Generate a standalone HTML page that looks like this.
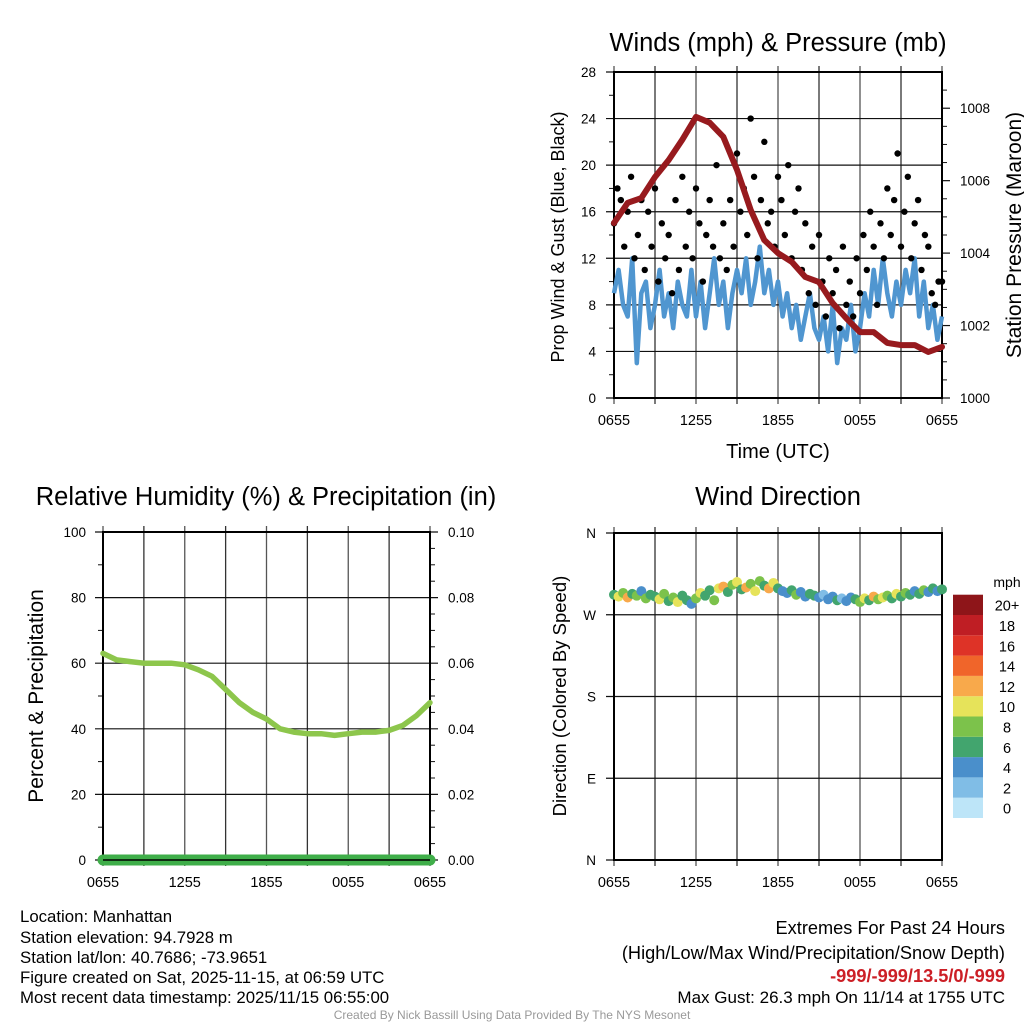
<!DOCTYPE html>
<html><head><meta charset="utf-8"><style>
body{margin:0;background:#fff;}
svg text{font-family:"Liberation Sans",sans-serif;}
</style></head><body>
<svg id="s" width="1024" height="1024" viewBox="0 0 1024 1024" xmlns="http://www.w3.org/2000/svg">
<rect width="1024" height="1024" fill="#fff"/>
<g id="g1"></g>
<g id="g2"></g>
<g id="g3"></g>
<g id="info" font-size="16.8" fill="#000">
<text x="20" y="922">Location: Manhattan</text>
<text x="20" y="943">Station elevation: 94.7928 m</text>
<text x="20" y="963">Station lat/lon: 40.7686; -73.9651</text>
<text x="20" y="983">Figure created on Sat, 2025-11-15, at 06:59 UTC</text>
<text x="20" y="1003">Most recent data timestamp: 2025/11/15 06:55:00</text>
</g>
<g font-size="18.2" text-anchor="end">
<text x="1005" y="934">Extremes For Past 24 Hours</text>
<text x="1005" y="959">(High/Low/Max Wind/Precipitation/Snow Depth)</text>
<text x="1005" y="982" fill="#cc1f26" font-weight="bold">-999/-999/13.5/0/-999</text>
<text x="1005" y="1003" font-size="17">Max Gust: 26.3 mph On 11/14 at 1755 UTC</text>
</g>
<text x="512" y="1019" font-size="12" fill="#999" text-anchor="middle">Created By Nick Bassill Using Data Provided By The NYS Mesonet</text>
</svg>
<script>
// ---- data ----
const timeLabels=["0655","1255","1855","0055","0655"];
const windTicks=[0,4,8,12,16,20,24,28];
const presTicks=[1000,1002,1004,1006,1008];
const pressure=[1004.83,1005.39,1005.52,1006.1,1006.57,1007.13,1007.76,1007.6,1007.21,1006.3,1005.19,1004.36,1004.0,1003.76,1003.34,1003.2,1002.62,1002.2,1001.82,1001.82,1001.52,1001.46,1001.46,1001.27,1001.41];
const wind=[9,11,8,7,12,3,9,10,6, 8,11,7,9,6,10,8,7,11, 7,10,6,9,12,8,10,6,9, 11,9,12,8,10,13,9,11,8, 10,7,9,6,8,5,7,9,6, 5,7,4,8,3,6,5,8,4, 6,9,7,11,8,12,9,7,10, 8,11,9,12,7,10,6,8,5,7];
const gust=[15,18,17,13,16,19,12,14,17,11,16,13,18,10,15,12, 14,9,17,11,19,13,16,12,18,15,10,14,17,13,20,12, 15,11,17,13,21,16,18,14,24,19,12,17,22,15,16,13, 19,17,14,20,12,16,18,11,15,9,13,8,14,10,7,12, 9,11,6,13,8,10,7,12,9,14,11,16,13,8,15,12, 18,14,17,21,13,16,19,12,15,17,11,14,13,9,8,10,10];
const rhTicks=[0,20,40,60,80,100];
const precipTicks=["0.00","0.02","0.04","0.06","0.08","0.10"];
const rh=[63,61,60.5,60,60,60,59.5,58,56,52,48,45,43,40,39,38.5,38.5,38,38.5,39,39,39.5,41,44,48];
const precip=[0,0,0,0,0,0,0,0,0,0,0,0,0,0,0,0,0,0,0,0,0,0,0,0,0];
const dirLabels=["N","E","S","W","N"];
const dirs=[292,290,294,289,293,291,296,288,292, 290,287,293,285,289,284,291,286,282, 288,294,291,297,286,299,301,295,303, 306,298,300,304,296,307,302,299,305, 299,296,294,297,292,295,290,293,291, 289,292,287,290,286,288,285,289,287, 284,288,286,290,287,289,291,288,293, 290,294,292,296,293,297,295,299,296,298];
const speeds=[6,10,8,12,7,9,5,8,6, 7,10,9,6,8,10,7,6,4, 8,10,7,6,9,10,12,7,8, 10,6,12,9,11,8,7,12,10, 6,5,4,6,8,4,5,6,7, 4,3,5,4,6,3,5,4,6, 8,10,7,12,9,10,8,6,11, 7,8,6,5,7,8,4,6,5,7];
const cbLabels=["0","2","4","6","8","10","12","14","16","18","20+"];
const cbColors=["#bde5f8","#80bde6","#4a8fcb","#42a56e","#7cc24b","#e6e35a","#f8a94b","#f0652a","#de3327","#bf1e24","#8e1519"];

const NS="http://www.w3.org/2000/svg";
function mk(p,t,a){const e=document.createElementNS(NS,t);for(const k in a)e.setAttribute(k,a[k]);p.appendChild(e);return e;}
function txt(p,x,y,s,size,anchor,rot){const e=mk(p,'text',{x:x,y:y,'font-size':size,'text-anchor':anchor||'middle'});if(rot)e.setAttribute('transform','rotate(-90 '+x+' '+y+')');e.textContent=s;return e;}
function colorFor(v){let i=Math.min(10,Math.max(0,Math.floor(v/2)));return cbColors[i];}

function frame(g,L,R,T,B,title,tx,ty){
  const t=txt(g,tx,ty,title,25.5);
  
  for(let i=0;i<=8;i++){const x=L+(R-L)*i/8;
    const l=mk(g,'line',{x1:x,y1:T-6,x2:x,y2:B+6,stroke:i%2?'#333':'#555','stroke-width':1.3});
    }
  for(let i=0;i<5;i++){const x=L+(R-L)*i/4;
    const l=txt(g,x,B+27,timeLabels[i],14.5);}
}
function xAt(L,R,i,n){return L+(R-L)*i/(n-1);}

// ---- chart 1 ----
(function(){
const g=document.getElementById('g1');const L=614,R=942,T=72,B=398;
const y=v=>B-(v/28)*(B-T); const yp=v=>B-((v-1000)/9)*(B-T);
frame(g,L,R,T,B,"Winds (mph) & Pressure (mb)",778,51);
windTicks.forEach(v=>{const yy=y(v);
  const l=mk(g,'line',{x1:L-8,y1:yy,x2:R,y2:yy,stroke:'#111','stroke-width':1.2});
  const t=txt(g,L-18,yy+5,String(v),13.5,'end');});
for(let v=2;v<28;v+=4){mk(g,'line',{x1:L-5,y1:y(v),x2:L,y2:y(v),stroke:'#111'});}
presTicks.forEach(v=>{const yy=yp(v);mk(g,'line',{x1:R,y1:yy,x2:R+8,y2:yy,stroke:'#111','stroke-width':1.2});
  const t=txt(g,R+18,yy+5,String(v),13.5,'start');});
for(let v=1000.5;v<1009;v+=0.5){if(v%2)mk(g,'line',{x1:R,y1:yp(v),x2:R+5,y2:yp(v),stroke:'#111'});}
mk(g,'rect',{x:L,y:T,width:R-L,height:B-T,fill:'none',stroke:'#000','stroke-width':2});
let d='';wind.forEach((v,i)=>{d+=(i?'L':'M')+xAt(L,R,i,wind.length).toFixed(1)+' '+y(v).toFixed(1);});
const wl=mk(g,'path',{d:d,fill:'none',stroke:'#5096d0','stroke-width':4.5,'stroke-linejoin':'round'});

gust.forEach((v,i)=>{const c=mk(g,'circle',{cx:xAt(L,R,i,gust.length),cy:y(v),r:3.2,fill:'#000'});
  });
d='';pressure.forEach((v,i)=>{d+=(i?'L':'M')+xAt(L,R,i,pressure.length).toFixed(1)+' '+yp(v).toFixed(1);});
const pl=mk(g,'path',{d:d,fill:'none',stroke:'#971a1e','stroke-width':6,'stroke-linejoin':'round','stroke-linecap':'round'});

let t=txt(g,564,237,"Prop Wind & Gust (Blue, Black)",18,'middle',true);
t=txt(g,1021,235,"Station Pressure (Maroon)",21,'middle',true);
t=txt(g,778,458,"Time (UTC)",20);
})();

// ---- chart 2 ----
(function(){
const g=document.getElementById('g2');const L=103,R=430,T=532,B=860;
const y=v=>B-(v/100)*(B-T);
frame(g,L,R,T,B,"Relative Humidity (%) & Precipitation (in)",266,505);
rhTicks.forEach((v,i)=>{const yy=y(v);
  const l=mk(g,'line',{x1:L-8,y1:yy,x2:R+8,y2:yy,stroke:'#111','stroke-width':1.2});
  let t=txt(g,L-17,yy+5,String(v),13.5,'end');
  t=txt(g,R+18,yy+5,precipTicks[i],13.5,'start');});
for(let v=10;v<100;v+=20){mk(g,'line',{x1:L-5,y1:y(v),x2:L,y2:y(v),stroke:'#111'});}
for(let v=5;v<100;v+=5){if(v%20)mk(g,'line',{x1:R,y1:y(v),x2:R+5,y2:y(v),stroke:'#111'});}
mk(g,'rect',{x:L,y:T,width:R-L,height:B-T,fill:'none',stroke:'#000','stroke-width':2});
let d='';rh.forEach((v,i)=>{d+=(i?'L':'M')+xAt(L,R,i,rh.length).toFixed(1)+' '+y(v).toFixed(1);});
const l=mk(g,'path',{d:d,fill:'none',stroke:'#8dc64c','stroke-width':5.5,'stroke-linejoin':'round','stroke-linecap':'round'});

d='';precip.forEach((v,i)=>{d+=(i?'L':'M')+xAt(L,R,i,precip.length).toFixed(1)+' '+y(v*1000).toFixed(1);});
const p=mk(g,'path',{d:d,fill:'none',stroke:'#3fae49','stroke-width':11,'stroke-linecap':'round'});

mk(g,'line',{x1:L,y1:B,x2:R,y2:B,stroke:'#000','stroke-width':1.5});
const t=txt(g,43,696,"Percent & Precipitation",21,'middle',true);
})();

// ---- chart 3 ----
(function(){
const g=document.getElementById('g3');const L=614,R=942,T=533,B=860;
const y=v=>B-(v/360)*(B-T);
frame(g,L,R,T,B,"Wind Direction",778,505);
dirLabels.forEach((s,i)=>{const yy=y(i*90);
  const l=mk(g,'line',{x1:L-8,y1:yy,x2:R,y2:yy,stroke:'#111','stroke-width':1.2});
  const t=txt(g,L-18,yy+5,s,13.5,'end');});
mk(g,'rect',{x:L,y:T,width:R-L,height:B-T,fill:'none',stroke:'#000','stroke-width':2});
dirs.forEach((v,i)=>{const c=mk(g,'circle',{cx:xAt(L,R,i,dirs.length),cy:y(v),r:5,fill:colorFor(speeds[i])});
  });
let t=txt(g,566,696,"Direction (Colored By Speed)",18.5,'middle',true);
const cb=mk(g,'g',{});
t=txt(cb,1007,587,"mph",14);
cbLabels.forEach((s,i)=>{const yy=818-(i+1)*20.3;
  const r=mk(cb,'rect',{x:953,y:yy,width:30,height:20.3,fill:cbColors[i]});
  const tt=txt(cb,1007,yy+16,s,14.5);});
})();
</script>
</body></html>
